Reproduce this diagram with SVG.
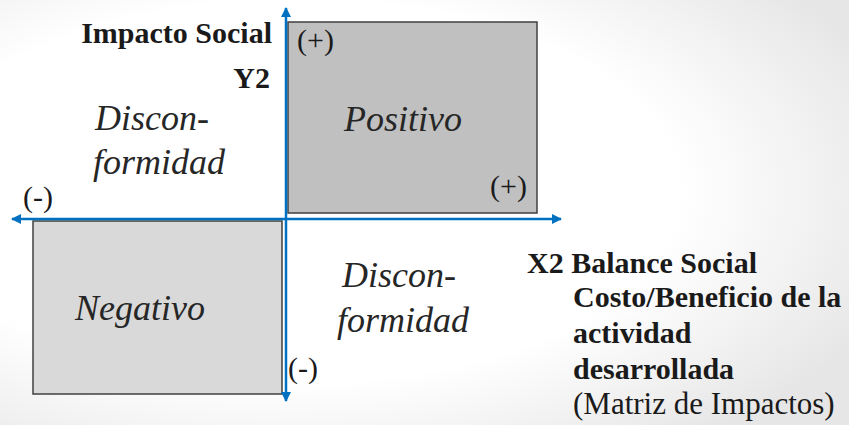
<svg xmlns="http://www.w3.org/2000/svg" width="849" height="425" viewBox="0 0 849 425">
<defs>
<radialGradient id="bg" cx="0.35" cy="0.45" r="0.75">
<stop offset="0.6" stop-color="#ffffff"/>
<stop offset="1" stop-color="#e6e6e6"/>
</radialGradient>
<marker id="arr" viewBox="0 0 10 10" refX="9" refY="5" markerWidth="4" markerHeight="4" orient="auto" markerUnits="strokeWidth">
<path d="M0,0 L10,5 L0,10 z" fill="#0070c0"/>
</marker>
<style>
text{font-family:'Liberation Serif','DejaVu Serif',serif}
.b{font-weight:bold;font-size:30px;fill:#1a1a1a}
.r{font-size:30px;fill:#1a1a1a}
.m{font-size:31px;fill:#1a1a1a}
.i{font-style:italic;font-size:36px;fill:#262626}
.ax{stroke:#0070c0;stroke-width:2.5;fill:none;marker-end:url(#arr)}
.box{stroke:#404040;stroke-width:1.5}
</style>
</defs>
<rect width="849" height="425" fill="url(#bg)"/>
<g id="positivo">
<rect class="box" x="288" y="22" width="249" height="191" fill="#c0c0c0"/>
<text class="r" x="297" y="50">(+)</text>
<text class="r" x="490" y="196">(+)</text>
<text class="i" x="403" y="131" text-anchor="middle">Positivo</text>
</g>
<g id="negativo">
<rect class="box" x="33" y="221" width="249" height="173" fill="#d9d9d9"/>
<text class="i" x="140" y="320" text-anchor="middle">Negativo</text>
</g>
<g id="disconformidad-1">
<text class="i" x="95" y="130">Discon-</text>
<text class="i" x="93" y="174">formidad</text>
</g>
<g id="disconformidad-2">
<text class="i" x="342" y="287">Discon-</text>
<text class="i" x="337" y="332">formidad</text>
</g>
<g id="y-label">
<text class="b" x="272" y="43" text-anchor="end">Impacto Social</text>
<text class="b" x="270" y="88" text-anchor="end">Y2</text>
</g>
<g id="x-label">
<text class="b" x="527" y="273">X2 Balance Social</text>
<text class="b" x="573" y="307">Costo/Beneficio de la</text>
<text class="b" x="573" y="343">actividad</text>
<text class="b" x="573" y="379">desarrollada</text>
<text class="m" x="573" y="414">(Matriz de Impactos)</text>
</g>
<g id="axis-marks">
<text class="r" x="23" y="207">(-)</text>
<text class="r" x="288" y="378">(-)</text>
</g>
<g id="connectors">
<line class="ax" x1="286" y1="219" x2="286" y2="8"/>
<line class="ax" x1="286" y1="219" x2="286" y2="401"/>
<line class="ax" x1="286" y1="219" x2="561" y2="219"/>
<line class="ax" x1="286" y1="219" x2="12" y2="219"/>
</g>
</svg>
